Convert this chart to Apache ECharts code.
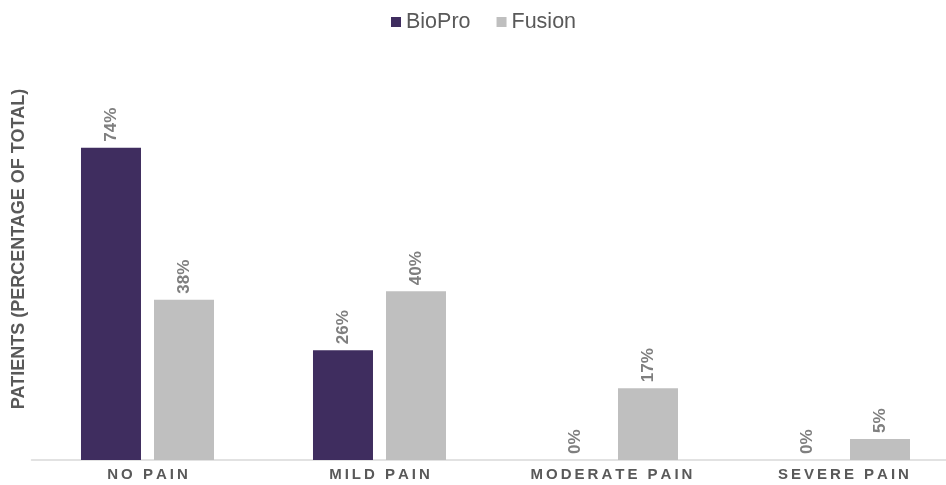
<!DOCTYPE html>
<html>
<head>
<meta charset="utf-8">
<script src="https://cdn.jsdelivr.net/npm/echarts@6/dist/echarts.min.js"></script>
<style>
  html, body { margin: 0; padding: 0; background: #fff; overflow: hidden; }
  /* the plot area runs slightly past the right edge of the window */
  #chart { width: 960px; height: 485px; }
</style>
</head>
<body>
<div id="chart"></div>
<script>
// Pain outcome by treatment group (percent of patients)
const categories = ['NO PAIN', 'MILD PAIN', 'MODERATE PAIN', 'SEVERE PAIN'];
const bioPro = [74, 26, 0, 0];
const fusion = [38, 40, 17, 5];
const seriesNames = ['BioPro', 'Fusion'];
const yTitle = 'PATIENTS (PERCENTAGE OF TOTAL)';

const chart = echarts.init(document.getElementById('chart'));

const valueLabel = {
  show: true,
  position: 'top',
  rotate: 90,
  align: 'left',
  verticalAlign: 'middle',
  distance: 6,
  color: '#7f7f7f',
  fontFamily: '"Liberation Sans Narrow", "Liberation Sans", Arial, sans-serif',
  fontWeight: 'bold',
  fontSize: 17,
  formatter: p => p.value + '%'
};

chart.setOption({
  animation: false,
  textStyle: { fontFamily: '"Liberation Sans", Arial, sans-serif' },
  legend: {
    top: 6,
    left: 386,
    itemWidth: 10,
    itemHeight: 10,
    itemGap: 26,
    icon: 'rect',
    textStyle: { fontSize: 21.5, color: '#595959' },
    data: seriesNames
  },
  grid: { left: 31.5, right: 0.5, top: 38, bottom: 25, containLabel: false },
  xAxis: {
    type: 'category',
    data: categories,
    axisLine: { lineStyle: { color: '#d9d9d9', width: 1.5 } },
    axisTick: { show: false },
    axisLabel: {
      margin: 7,
      color: '#595959',
      fontWeight: 'bold',
      fontSize: 15,
      formatter: v => v.split('').join('\u2009')
    }
  },
  yAxis: {
    type: 'value',
    min: 0,
    max: 100,
    axisLine: { show: false },
    axisTick: { show: false },
    axisLabel: { show: false },
    splitLine: { show: false },
    name: yTitle,
    nameLocation: 'middle',
    nameGap: 3,
    nameRotate: 90,
    nameTextStyle: { color: '#595959', fontWeight: 'bold', fontSize: 18 }
  },
  series: [
    {
      name: seriesNames[0],
      type: 'bar',
      data: bioPro,
      barWidth: 60,
      barGap: '21.7%',
      itemStyle: { color: '#3f2d5f' },
      label: valueLabel
    },
    {
      name: seriesNames[1],
      type: 'bar',
      data: fusion,
      barWidth: 60,
      itemStyle: { color: '#bfbfbf' },
      label: valueLabel
    }
  ]
});
</script>
</body>
</html>
